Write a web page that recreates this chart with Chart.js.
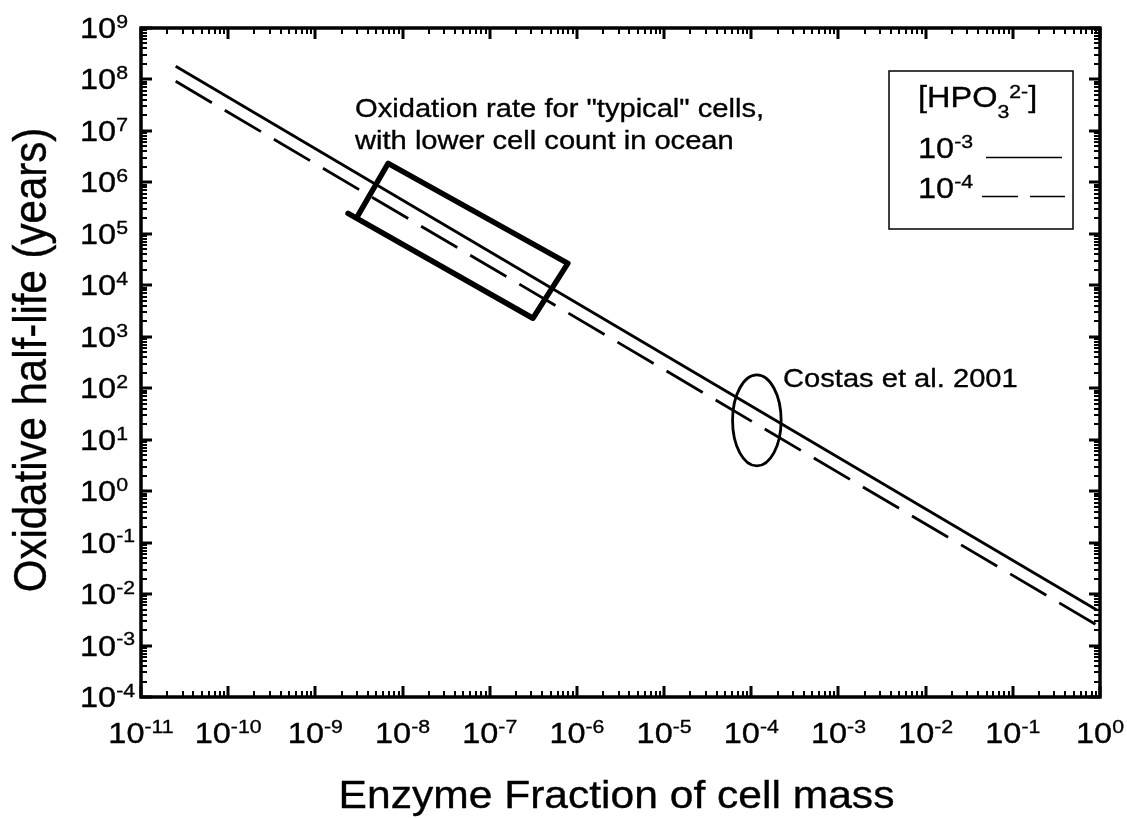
<!DOCTYPE html>
<html>
<head>
<meta charset="utf-8">
<title>Oxidative half-life vs enzyme fraction</title>
<script src="https://cdn.jsdelivr.net/npm/chart.js@4.4.1/dist/chart.umd.min.js"></script>
<style>
  html, body { margin: 0; padding: 0; background: #fff; }
  #box { width: 1127px; height: 818px; }
</style>
</head>
<body>
<div id="box"><canvas id="half-life-chart"></canvas></div>
<script>
// enzyme fraction of cell mass (x) against oxidative half-life in years (y)
const enzymeFraction = [2.5e-11, 0.92];
const halfLifeHpo3em3 = [1.8e8, 4.9e-3];   // [HPO3 2-] = 1e-3
const halfLifeHpo3em4 = [9.2e7, 2.5e-3];   // [HPO3 2-] = 1e-4

// outline of the "typical cells" region, in drawing order
const typicalCellsX = [2.37e-9, 3.13e-7, 7.87e-7, 6.83e-9, 2.96e-9];
const typicalCellsY = [2.5e5, 2.29e3, 2.67e4, 2.35e6, 2.03e5];

// Costas et al. 2001 range, [low, high] on each axis
const costasX = [6.1e-5, 2.2e-4];
const costasY = [3.1, 181];

// decade tick labels
const xExponents = [-11, -10, -9, -8, -7, -6, -5, -4, -3, -2, -1, 0];
const yExponents = [9, 8, 7, 6, 5, 4, 3, 2, 1, 0, -1, -2, -3, -4];
const legendExponents = ["-3", "-4"];

const xTitle = "Enzyme Fraction of cell mass";
const yTitle = "Oxidative half-life (years)";
const typicalCellsNote = ['Oxidation rate for "typical" cells,', "with lower cell count in ocean"];
const costasNote = "Costas et al. 2001";

const STRETCH = 1.12;
const FAMILY = '"Liberation Sans", Arial, sans-serif';

function textWidth(ctx, s, size) {
  ctx.save();
  ctx.font = size + "px " + FAMILY;
  const w = ctx.measureText(s).width * STRETCH;
  ctx.restore();
  return w;
}

function putText(ctx, s, x, y, size, rotate) {
  ctx.save();
  ctx.font = size + "px " + FAMILY;
  ctx.fillStyle = "#000";
  ctx.strokeStyle = "#000";
  ctx.lineWidth = 0.35;
  ctx.translate(x, y);
  ctx.scale(STRETCH, 1);
  if (rotate) {
    ctx.rotate(-Math.PI / 2);
    ctx.textAlign = "center";
  }
  ctx.fillText(s, 0, 0);
  ctx.strokeText(s, 0, 0);
  ctx.restore();
  return textWidth(ctx, s, size);
}

// "10" followed by a raised exponent
function powerWidth(ctx, exp, size, supSize) {
  return textWidth(ctx, "10", size) + textWidth(ctx, String(exp), supSize);
}
function drawPower(ctx, exp, x, y, size, supSize) {
  const w = putText(ctx, "10", x, y, size);
  putText(ctx, String(exp), x + w, y - size * 0.35, supSize);
}

function line(ctx, x0, y0, x1, y1) {
  ctx.beginPath();
  ctx.moveTo(x0, y0);
  ctx.lineTo(x1, y1);
  ctx.stroke();
}

const decorations = {
  id: "decorations",
  afterDatasetsDraw(chart) {
    const ctx = chart.ctx;
    const xs = chart.scales.x;
    const ys = chart.scales.y;

    // Costas et al. ellipse
    const ex0 = xs.getPixelForValue(costasX[0]);
    const ex1 = xs.getPixelForValue(costasX[1]);
    const ey0 = ys.getPixelForValue(costasY[1]);
    const ey1 = ys.getPixelForValue(costasY[0]);
    ctx.save();
    ctx.strokeStyle = "#000";
    ctx.lineWidth = 2.8;
    ctx.beginPath();
    ctx.ellipse((ex0 + ex1) / 2, (ey0 + ey1) / 2, (ex1 - ex0) / 2, (ey1 - ey0) / 2, 0, 0, 2 * Math.PI);
    ctx.stroke();
    ctx.restore();
  },
  afterDraw(chart) {
    const ctx = chart.ctx;
    const { left, right, top, bottom } = chart.chartArea;
    const xs = chart.scales.x;
    const ys = chart.scales.y;

    ctx.save();
    ctx.strokeStyle = "#000";
    ctx.lineCap = "butt";

    // inward ticks on all four sides
    for (let e = -11; e <= 0; e++) {
      for (let m = 1; m < 10; m++) {
        const v = m * Math.pow(10, e);
        if (v > 1) break;
        const px = Math.round(xs.getPixelForValue(v));
        const len = m === 1 ? 11 : 6;
        ctx.lineWidth = m === 1 ? 3 : 2;
        line(ctx, px, bottom, px, bottom - len);
        line(ctx, px, top, px, top + len);
      }
    }
    for (let e = -4; e <= 9; e++) {
      for (let m = 1; m < 10; m++) {
        const v = m * Math.pow(10, e);
        if (v > 1e9) break;
        const py = Math.round(ys.getPixelForValue(v));
        const len = m === 1 ? 11 : 6;
        ctx.lineWidth = m === 1 ? 3 : 2;
        line(ctx, left, py, left + len, py);
        line(ctx, right, py, right - len, py);
      }
    }

    // frame
    ctx.lineWidth = 3.5;
    ctx.strokeRect(left, top, right - left, bottom - top);

    // tick labels
    xExponents.forEach((e) => {
      const px = xs.getPixelForValue(Math.pow(10, e));
      const w = powerWidth(ctx, e, 29, 19);
      drawPower(ctx, e, px - w / 2, 743, 29, 19);
    });
    yExponents.forEach((e) => {
      const py = ys.getPixelForValue(Math.pow(10, e));
      drawPower(ctx, e, 80, py + 10, 29, 19);
    });

    // axis titles
    const xw = textWidth(ctx, xTitle, 38);
    putText(ctx, xTitle, (left + right) / 2 - xw / 2 - 4, 808, 38);
    putText(ctx, yTitle, 46, 360, 42, true);

    // notes
    putText(ctx, typicalCellsNote[0], 355, 117, 26);
    putText(ctx, typicalCellsNote[1], 355, 149, 26);
    putText(ctx, costasNote, 783, 387, 26);

    // legend box
    ctx.lineWidth = 1.5;
    ctx.strokeRect(889, 71, 184, 158);
    let cx = 918;
    cx += putText(ctx, "[HPO", cx, 107, 29);
    cx += putText(ctx, "3", cx, 118, 19);
    cx += putText(ctx, "2-", cx, 98, 19);
    putText(ctx, "]", cx, 107, 29);

    drawPower(ctx, legendExponents[0], 918, 158, 29, 19);
    ctx.lineWidth = 1.6;
    line(ctx, 986, 157.5, 1062, 157.5);

    drawPower(ctx, legendExponents[1], 918, 198, 29, 19);
    ctx.setLineDash([36, 12]);
    line(ctx, 982, 196.5, 1065, 196.5);
    ctx.setLineDash([]);
    ctx.restore();
  },
};

const points = (xv, yv) => xv.map((x, i) => ({ x: x, y: yv[i] }));

const chart = new Chart(document.getElementById("half-life-chart"), {
  type: "line",
  data: {
    datasets: [
      {
        label: "1e-3",
        data: points(enzymeFraction, halfLifeHpo3em3),
        borderColor: "#000",
        borderWidth: 2.8,
        pointRadius: 0,
      },
      {
        label: "1e-4",
        data: points(enzymeFraction, halfLifeHpo3em4),
        borderColor: "#000",
        borderWidth: 2.8,
        borderDash: [42, 15],
        pointRadius: 0,
      },
      {
        label: "typical cells",
        data: points(typicalCellsX, typicalCellsY),
        borderColor: "#000",
        borderWidth: 5.5,
        borderJoinStyle: "round",
        borderCapStyle: "round",
        pointRadius: 0,
      },
    ],
  },
  options: {
    responsive: true,
    maintainAspectRatio: false,
    animation: false,
    events: [],
    layout: { padding: { left: 141, right: 27, top: 28, bottom: 121 } },
    scales: {
      x: { type: "logarithmic", min: 1e-11, max: 1, display: false },
      y: { type: "logarithmic", min: 1e-4, max: 1e9, display: false },
    },
    plugins: {
      legend: { display: false },
      tooltip: { enabled: false },
    },
  },
  plugins: [decorations],
});
</script>
</body>
</html>
